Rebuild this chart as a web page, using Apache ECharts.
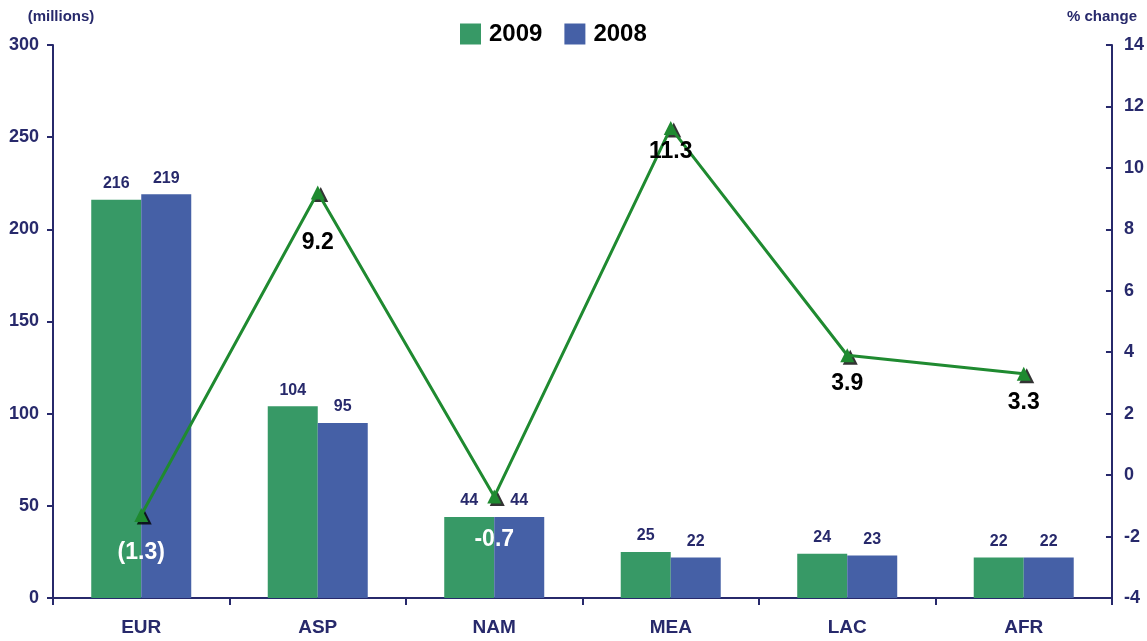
<!DOCTYPE html>
<html>
<head>
<meta charset="utf-8">
<script src="https://cdn.jsdelivr.net/npm/echarts@6/dist/echarts.min.js"></script>
<style>
  html, body { margin: 0; padding: 0; background: #fff; }
  #chart { width: 1147px; height: 641px; }
</style>
</head>
<body>
<div id="chart"></div>
<script>
// categories and values
const regions = ['EUR', 'ASP', 'NAM', 'MEA', 'LAC', 'AFR']
const v2009 = [216, 104, 44, 25, 24, 22]
const v2008 = [219, 95, 44, 22, 23, 22]
const pctChange = [-1.3, 9.2, -0.7, 11.3, 3.9, 3.3]
const pctLabels = ['(1.3)', '9.2', '-0.7', '11.3', '3.9', '3.3']

const navy = '#27296b'
const green = '#379966'
const blue = '#4560a6'
const lineGreen = '#1f8a30'
const font = 'Liberation Sans'

const chart = echarts.init(document.getElementById('chart'))

// white labels where the point sits over the bars
const whiteLabel = [true, false, true, false, false, false]
const labelDist = [19, 32, 25, 5, 10, 10]

const option = {
  animation: false,
  grid: { left: 53, right: 35, top: 45, bottom: 43 },
  legend: {
    top: 17,
    left: 455,
    icon: 'rect',
    itemWidth: 21,
    itemHeight: 21,
    itemGap: 22,
    data: ['2009', '2008'],
    textStyle: { fontSize: 24, fontWeight: 'bold', color: '#000', fontFamily: font, padding: [0, 0, 0, 3] }
  },
  xAxis: {
    type: 'category',
    data: regions,
    axisLine: { lineStyle: { color: navy, width: 2 } },
    axisTick: { show: true, length: 7, lineStyle: { color: navy, width: 2 } },
    axisLabel: { color: navy, fontSize: 19, fontWeight: 'bold', margin: 20, fontFamily: font }
  },
  yAxis: [
    {
      type: 'value',
      min: 0, max: 300, interval: 50,
      name: '(millions)',
      nameLocation: 'end',
      nameGap: 21,
      nameTextStyle: { color: navy, fontSize: 15, fontWeight: 'bold', align: 'center', padding: [0, 0, 0, 16], fontFamily: font },
      axisLine: { show: true, lineStyle: { color: navy, width: 2 } },
      axisTick: { show: true, length: 6, lineStyle: { color: navy, width: 2 } },
      axisLabel: { color: navy, fontSize: 18, fontWeight: 'bold', margin: 14, fontFamily: font },
      splitLine: { show: false }
    },
    {
      type: 'value',
      min: -4, max: 14, interval: 2,
      name: '% change',
      nameLocation: 'end',
      nameGap: 21,
      nameTextStyle: { color: navy, fontSize: 15, fontWeight: 'bold', align: 'center', padding: [0, 20, 0, 0], fontFamily: font },
      axisLine: { show: true, lineStyle: { color: navy, width: 2 } },
      axisTick: { show: true, length: 6, inside: true, lineStyle: { color: navy, width: 2 } },
      axisLabel: { color: navy, fontSize: 18, fontWeight: 'bold', margin: 12, fontFamily: font },
      splitLine: { show: false }
    }
  ],
  series: [
    {
      name: '2009',
      type: 'bar',
      data: v2009,
      barWidth: 50,
      barGap: '0%',
      itemStyle: { color: green },
      label: { show: true, position: 'top', distance: 8, color: navy, fontSize: 16, fontWeight: 'bold', fontFamily: font }
    },
    {
      name: '2008',
      type: 'bar',
      data: v2008,
      barWidth: 50,
      itemStyle: { color: blue },
      label: { show: true, position: 'top', distance: 8, color: navy, fontSize: 16, fontWeight: 'bold', fontFamily: font }
    },
    {
      // black shadow triangles under the line markers
      name: 'shadow',
      type: 'scatter',
      yAxisIndex: 1,
      data: pctChange,
      symbol: 'triangle',
      symbolSize: 15,
      symbolOffset: [3, 2],
      itemStyle: { color: '#000' },
      z: 3
    },
    {
      name: 'change',
      type: 'line',
      yAxisIndex: 1,
      data: pctChange.map((v, i) => ({
        value: v,
        label: {
          show: true,
          position: 'bottom',
          distance: labelDist[i],
          formatter: pctLabels[i],
          color: whiteLabel[i] ? '#fff' : '#000',
          fontSize: 23,
          fontWeight: 'bold',
          fontFamily: font
        }
      })),
      symbol: 'triangle',
      symbolSize: 14,
      showAllSymbol: true,
      lineStyle: { color: lineGreen, width: 3 },
      itemStyle: { color: lineGreen },
      z: 4
    }
  ]
}

chart.setOption(option)
</script>
</body>
</html>
